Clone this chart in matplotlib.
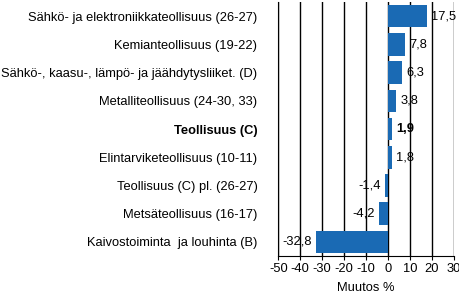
import matplotlib.pyplot as plt
import numpy as np

plt.rcParams['font.family'] = ['Liberation Sans', 'DejaVu Sans']
plt.rcParams['axes.unicode_minus'] = False

# data, top to bottom
categories = ['Sähkö- ja elektroniikkateollisuus (26-27)',
              'Kemianteollisuus (19-22)',
              'Sähkö-, kaasu-, lämpö- ja jäähdytysliiket. (D)',
              'Metalliteollisuus (24-30, 33)',
              'Teollisuus (C)',
              'Elintarviketeollisuus (10-11)',
              'Teollisuus (C) pl. (26-27)',
              'Metsäteollisuus (16-17)',
              'Kaivostoiminta  ja louhinta (B)']
values = [17.5, 7.8, 6.3, 3.8, 1.9, 1.8, -1.4, -4.2, -32.8]
bold_label = 'Teollisuus (C)'


def main():
    fig = plt.figure(figsize=(4.6, 2.93), dpi=100)
    ax = fig.add_axes([0.605, 0.126, 0.382, 0.867])

    y = np.arange(len(categories))[::-1]
    ax.barh(y, values, height=0.8, color='#1a6ab4', zorder=3)

    # value labels
    for yi, v, c in zip(y, values, categories):
        txt = ('%.1f' % v).replace('.', ',')
        weight = 'bold' if c == bold_label else 'normal'
        if v >= 0:
            ax.text(v + 2, yi, txt, va='center', ha='left', fontsize=9.3, fontweight=weight)
        else:
            ax.text(v - 1.8, yi, txt, va='center', ha='right', fontsize=9.3, fontweight=weight)

    ax.set_xlim(-50, 30)
    ax.set_ylim(-0.5, len(categories) - 0.5)
    ax.set_xticks(range(-50, 31, 10))
    ax.xaxis.grid(True, color='black', linewidth=1, zorder=0)
    ax.set_yticks(y)
    ax.set_yticklabels(categories, fontsize=9.3)
    for lbl in ax.get_yticklabels():
        if lbl.get_text() == bold_label:
            lbl.set_fontweight('bold')
    ax.tick_params(axis='y', length=0, pad=15)
    ax.tick_params(axis='x', length=3, labelsize=9.3, pad=2)
    ax.set_xlabel('Muutos %', fontsize=9.3, labelpad=5)

    for s in ['top', 'right']:
        ax.spines[s].set_visible(False)

    fig.savefig('out.png', dpi=100)


if __name__ == '__main__':
    main()
